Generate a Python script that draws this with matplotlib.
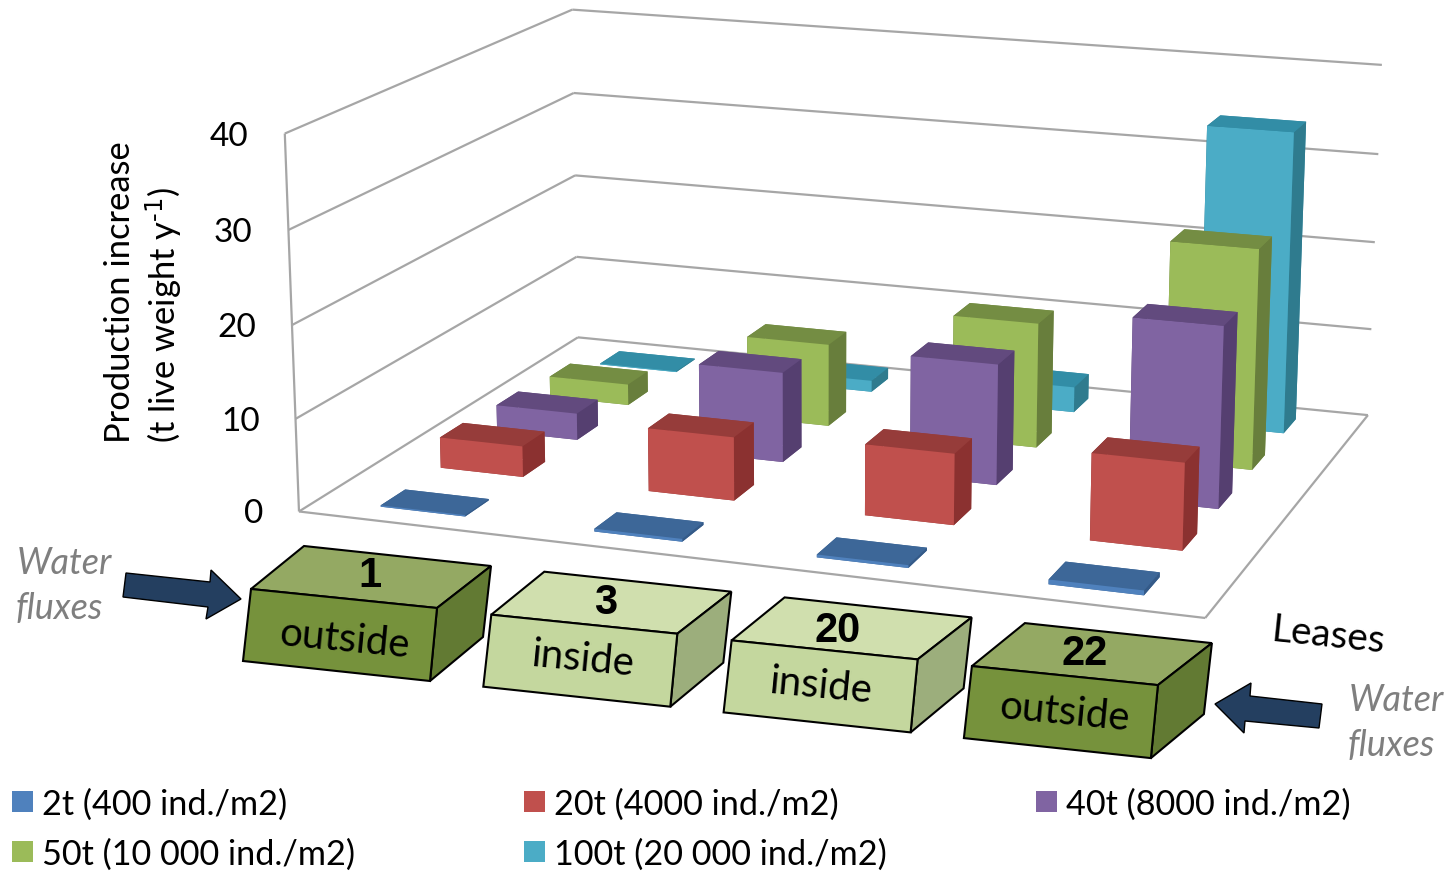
import numpy as np
import matplotlib
matplotlib.use('Agg')
import matplotlib.pyplot as plt
from matplotlib.patches import Polygon, Rectangle
from mpl_toolkits.mplot3d.art3d import Line3DCollection

W, H = 1455, 871

leases = ['1', '3', '20', '22']
lease_sides = ['outside', 'inside', 'inside', 'outside']
series_names = ['2t (400 ind./m2)', '20t (4000 ind./m2)', '40t (8000 ind./m2)',
                '50t (10 000 ind./m2)', '100t (20 000 ind./m2)']
values_2t = [0.15, 0.3, 0.3, 0.5]
values_20t = [3.4, 6.9, 7.65, 9.25]
values_40t = [3.0, 10.0, 13.25, 19.7]
values_50t = [2.4, 9.35, 14.0, 24.4]
values_100t = [0.1, 1.3, 2.9, 34.0]
z_ticks = [0, 10, 20, 30, 40]

front_cols = ['#4f81bd', '#c0504d', '#8064a2', '#9bbb59', '#4bacc6']
top_cols = ['#3d6798', '#963c3a', '#624a7e', '#748d43', '#328da6']
side_cols = ['#345a88', '#8b3130', '#553f70', '#687e3c', '#2f7b8e']

plt.rcParams['font.family'] = ['Lato', 'DejaVu Sans']
plt.rcParams['mathtext.default'] = 'regular'


# camera matrix solved from where the corners of the plot box land on the canvas
def solve_camera():
    box = [(0, 0, 0), (4, 0, 0), (4, 5, 0), (0, 5, 0), (0, 0, 40), (0, 5, 40), (4, 5, 40)]
    canvas = [(299, 512), (1205, 618), (1368, 415), (578, 337), (285, 133), (572, 10), (1382, 65)]
    rows = []
    for (x, y, z), (u, v) in zip(box, canvas):
        rows.append([x, y, z, 1, 0, 0, 0, 0, -u*x, -u*y, -u*z, -u])
        rows.append([0, 0, 0, 0, x, y, z, 1, -v*x, -v*y, -v*z, -v])
    p = np.linalg.svd(np.array(rows, dtype=float))[2][-1].reshape(3, 4)
    p = p / (p[2] @ [2, 2.5, 20, 1])
    return p


P = solve_camera()
M = np.vstack([P[0], P[1], P[2] - [0, 0, 0, 1], P[2]])


def to_px(x, y, z):
    u, v, w = P @ [x, y, z, 1]
    return u / w, v / w


fig = plt.figure(figsize=(W/100, H/100), dpi=100)
# 3D axes stay square, so let the square overhang the canvas top and bottom
ax = fig.add_axes([0, (H - W)/2/H, 1, W/H], projection='3d', computed_zorder=False)
ax.get_proj = lambda: M
ax.set_axis_off()

# walls and floor outline
segs = []
for z in z_ticks:
    segs.append([(0, 0, z), (0, 5, z)])
    segs.append([(0, 5, z), (4, 5, z)])
segs.append([(0, 0, 0), (0, 0, 40)])
segs.append([(0, 0, 0), (4, 0, 0)])
segs.append([(4, 0, 0), (4, 5, 0)])
ax.add_collection3d(Line3DCollection(segs, colors='#a6a6a6', linewidths=1.6, zorder=1))

all_values = [values_2t, values_20t, values_40t, values_50t, values_100t]
bar_w, bar_d = 0.40, 0.40
order = 10
for j in range(4, -1, -1):
    for i in range(4):
        # faces: bottom, top, front, back, left, right
        cols = [top_cols[j], top_cols[j], front_cols[j], top_cols[j], side_cols[j], side_cols[j]]
        ax.bar3d(i + 0.5 - bar_w/2, j + 0.5 - bar_d/2, 0, bar_w, bar_d, all_values[j][i],
                 color=cols, shade=False, zorder=order)
        order += 1

ax.viewLim.intervalx = (0, W)
ax.viewLim.intervaly = ((H + W)/2, (H - W)/2)

# flat layer on top for labels, lease blocks and arrows
ov = fig.add_axes([0, 0, 1, 1])
ov.set_xlim(0, W)
ov.set_ylim(H, 0)
ov.axis('off')
ov.patch.set_alpha(0)

for z in z_ticks:
    u, v = to_px(0, 0, z)
    ov.text(u - 36, v + 3, str(z), ha='right', va='center', fontsize=24, color='black')

ov.text(120, 443, 'Production increase', rotation=90, ha='center', va='bottom', fontsize=24.8)
ov.text(164, 443, r'(t live weight y$^{\text{-1}}$)', rotation=90, ha='center', va='bottom', fontsize=24.8)
ov.text(1328, 636, 'Leases', rotation=-6, ha='center', va='center', fontsize=28, rotation_mode='anchor')

block_colors = {'outside': ('#76923c', '#94a963', '#627a33'),
                'inside': ('#c4d79e', '#d0dfae', '#9cae7c')}
front_shape = np.array([(251, 589), (437, 608), (430, 681), (243, 661)])
top_shape = np.array([(251, 589), (304, 546), (491, 566), (437, 608)])
side_shape = np.array([(437, 608), (491, 566), (483, 637), (430, 681)])
name_pos = [(370, 576), (606, 603), (838, 631), (1085, 654)]
side_pos = [(344, 640), (583, 659), (821, 686), (1064, 713)]
for k in range(4):
    off = np.array([k*240.3, k*25.7])
    fc, tc, sc = block_colors[lease_sides[k]]
    for shape, col in [(top_shape, tc), (side_shape, sc), (front_shape, fc)]:
        ov.add_patch(Polygon(shape + off, closed=True, facecolor=col, edgecolor='black', lw=1.5, joinstyle='miter'))
    ov.text(*name_pos[k], leases[k], ha='center', va='center', fontsize=30, fontweight='bold',
            family='Liberation Sans')
    ov.text(*side_pos[k], lease_sides[k], rotation=-5.5, ha='center', va='center', fontsize=29,
            rotation_mode='anchor')

arrow_left = [(126, 573), (210, 582), (211, 570), (241, 599), (206, 619), (208, 607), (123, 597)]
arrow_right = [(1215, 704), (1251, 683), (1250, 696), (1322, 704), (1319, 728), (1245, 721), (1244, 733)]
for pts in (arrow_left, arrow_right):
    ov.add_patch(Polygon(pts, closed=True, facecolor='#243f60', edgecolor='black', lw=1))

for x, y, word in [(64, 563, 'Water'), (59, 608, 'fluxes'), (1396, 700, 'Water'), (1391, 745, 'fluxes')]:
    ov.text(x, y, word, ha='center', va='center', fontsize=26, style='italic', color='#7f7f7f')

legend_x = [12, 524, 1036, 12, 524]
legend_y = [802, 802, 802, 852, 852]
for name, col, x, y in zip(series_names, front_cols, legend_x, legend_y):
    ov.add_patch(Rectangle((x, y - 11), 21, 21, facecolor=col, edgecolor='none'))
    ov.text(x + 30, y + 3, name, ha='left', va='center', fontsize=24.7)

fig.savefig('out.png', dpi=100)
